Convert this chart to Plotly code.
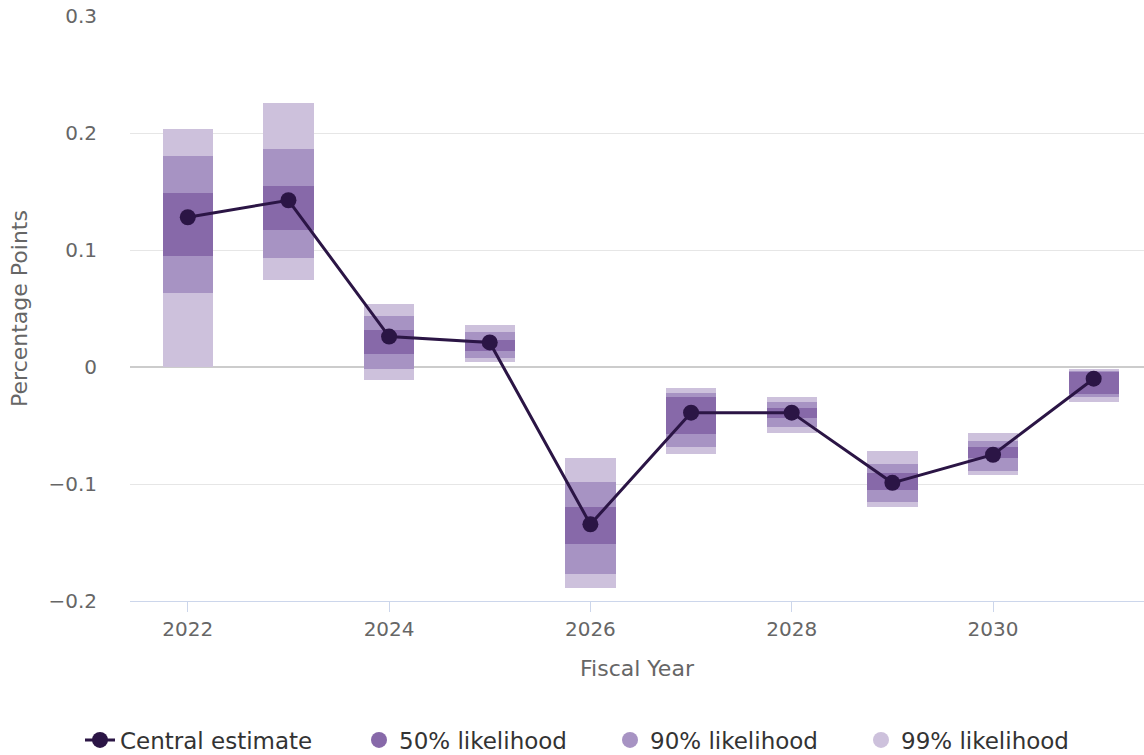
import plotly.graph_objects as go

years = [2022, 2023, 2024, 2025, 2026, 2027, 2028, 2029, 2030, 2031]
central = [0.128, 0.1425, 0.026, 0.021, -0.1345, -0.039, -0.039, -0.099, -0.075, -0.010]
lo99 = [0.0, 0.074, -0.011, 0.0045, -0.189, -0.074, -0.056, -0.120, -0.092, -0.030]
hi99 = [0.203, 0.226, 0.054, 0.036, -0.078, -0.018, -0.026, -0.072, -0.056, -0.002]
lo90 = [0.0635, 0.093, -0.002, 0.008, -0.177, -0.068, -0.051, -0.115, -0.089, -0.026]
hi90 = [0.180, 0.186, 0.044, 0.030, -0.098, -0.022, -0.030, -0.083, -0.063, -0.003]
lo50 = [0.095, 0.117, 0.011, 0.014, -0.151, -0.057, -0.044, -0.105, -0.078, -0.023]
hi50 = [0.149, 0.155, 0.032, 0.023, -0.120, -0.026, -0.035, -0.091, -0.068, -0.004]

c50 = "#8769a9"
c90 = "#a793c3"
c99 = "#cdc1dc"
cline = "#2b1545"
font = "DejaVu Sans"
W, H = 1144, 755

fig = go.Figure()
for lo, hi, col in [(lo99, hi99, c99), (lo90, hi90, c90), (lo50, hi50, c50)]:
    fig.add_trace(go.Bar(
        x=years, y=[h - l for l, h in zip(lo, hi)], base=lo,
        width=0.5, marker=dict(color=col, line=dict(width=0)),
        showlegend=False, hoverinfo="skip"))

fig.add_trace(go.Scatter(
    x=years, y=central, mode="lines+markers", name="Central estimate",
    line=dict(color=cline, width=3), marker=dict(color=cline, size=16),
    legend="legend"))

for name, col in [("50% likelihood", c50), ("90% likelihood", c90), ("99% likelihood", c99)]:
    fig.add_trace(go.Scatter(
        x=[None], y=[None], mode="markers", name=name,
        marker=dict(color=col, size=22, symbol="circle"), legend="legend2"))

plot_top, plot_bot, plot_l = 16, 601, 130
leg_y = (H - 740) / H

fig.update_layout(
    width=W, height=H,
    margin=dict(l=plot_l, r=0, t=plot_top, b=H - plot_bot),
    plot_bgcolor="white", paper_bgcolor="white",
    barmode="overlay", bargap=0,
    font=dict(family=font, color="#666666", size=20),
    legend=dict(orientation="h", xref="container", yref="container",
                x=80 / W, xanchor="left", y=leg_y, yanchor="middle",
                font=dict(size=23, color="#333333", family=font)),
    legend2=dict(orientation="h", xref="container", yref="container",
                 x=359 / W, xanchor="left", y=leg_y, yanchor="middle",
                 entrywidth=206,
                 font=dict(size=23, color="#333333", family=font)),
)
fig.update_xaxes(
    range=[2021.426, 2031.5], tickvals=[2022, 2024, 2026, 2028, 2030],
    showgrid=False, showline=True, linecolor="#ccd6eb", linewidth=1,
    ticks="outside", ticklen=10, tickcolor="#ccd6eb",
    tickfont=dict(size=20, color="#666666"), automargin=False,
    title=dict(text="Fiscal Year", font=dict(size=22, color="#666666"), standoff=20),
    zeroline=False)
fig.update_yaxes(
    range=[-0.2, 0.3], tickvals=[-0.2, -0.1, 0, 0.1, 0.2, 0.3],
    ticktext=["−0.2", "−0.1", "0", "0.1", "0.2", "0.3"],
    showgrid=True, gridcolor="#e6e6e6", gridwidth=1,
    zeroline=True, zerolinecolor="#cccccc", zerolinewidth=2,
    tickfont=dict(size=20, color="#666666"), ticklabelstandoff=32,
    automargin=False,
    title=dict(text="Percentage Points", font=dict(size=22, color="#666666"), standoff=14))

fig.write_html(
    "out.html",
    config={"displayModeBar": False},
    post_script="document.body.style.margin='0';document.documentElement.style.overflow='hidden';document.body.style.overflow='hidden';")
